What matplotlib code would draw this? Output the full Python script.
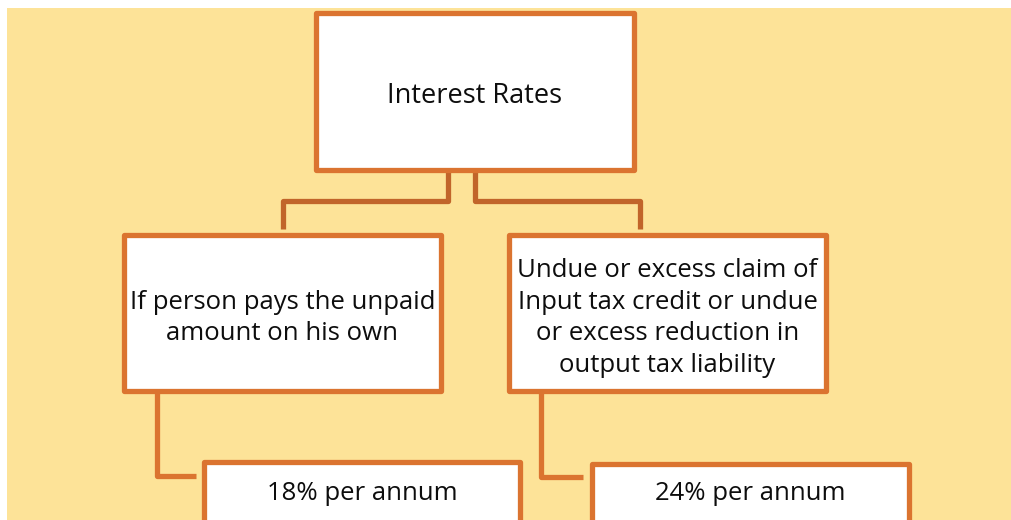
import matplotlib.pyplot as plt
from matplotlib.patches import Rectangle

plt.rcParams['font.family'] = ['Open Sans', 'DejaVu Sans']

# box texts
top_label = "Interest Rates"
mid_labels = [
    "If person pays the unpaid\namount on his own",
    "Undue or excess claim of\nInput tax credit or undue\nor excess reduction in\noutput tax liability",
]
rate_labels = ["18% per annum", "24% per annum"]

# layout in pixels (x0, y0, x1, y1)
top_box = (316, 13, 634, 170)
mid_boxes = [(124, 235, 441, 391), (509, 235, 826, 391)]
rate_boxes = [(204, 462, 520, 530), (592, 464, 909, 530)]

box_edge = "#DB7430"
link_col = "#C1652A"
bg_col = "#FDE398"
lw = 3.8

fig = plt.figure(figsize=(10.12, 5.2), dpi=100)
ax = fig.add_axes([0, 0, 1, 1])
ax.set_xlim(0, 1012)
ax.set_ylim(520, 0)
ax.axis("off")

ax.add_patch(Rectangle((7, 8), 1010, 520, facecolor=bg_col, edgecolor="none", zorder=0))


def box(b, text, y_text, size=18.5, linespacing=1.36):
    x0, y0, x1, y1 = b
    ax.add_patch(Rectangle((x0, y0), x1 - x0, y1 - y0, facecolor="white",
                           edgecolor=box_edge, linewidth=lw, joinstyle="round", zorder=2))
    ax.text((x0 + x1) / 2, y_text, text, ha="center", va="center", fontsize=size,
            color="#0d0d0d", linespacing=linespacing, zorder=3)


# connectors from the top box
ax.plot([448, 448, 283, 283], [170, 201, 201, 229], color=link_col, lw=lw,
        solid_joinstyle="round", solid_capstyle="butt", zorder=1)
ax.plot([475, 475, 640, 640], [170, 201, 201, 229], color=link_col, lw=lw,
        solid_joinstyle="round", solid_capstyle="butt", zorder=1)

# connectors to the rate boxes
ax.plot([157, 157, 196], [391, 476, 476], color=box_edge, lw=lw,
        solid_joinstyle="round", solid_capstyle="butt", zorder=1)
ax.plot([541, 541, 583], [391, 477, 477], color=box_edge, lw=lw,
        solid_joinstyle="round", solid_capstyle="butt", zorder=1)

box(top_box, top_label, 96, size=19.5)
box(mid_boxes[0], mid_labels[0], 318)
box(mid_boxes[1], mid_labels[1], 318)
box(rate_boxes[0], rate_labels[0], 494)
box(rate_boxes[1], rate_labels[1], 494)

fig.savefig("out.png", dpi=100)
